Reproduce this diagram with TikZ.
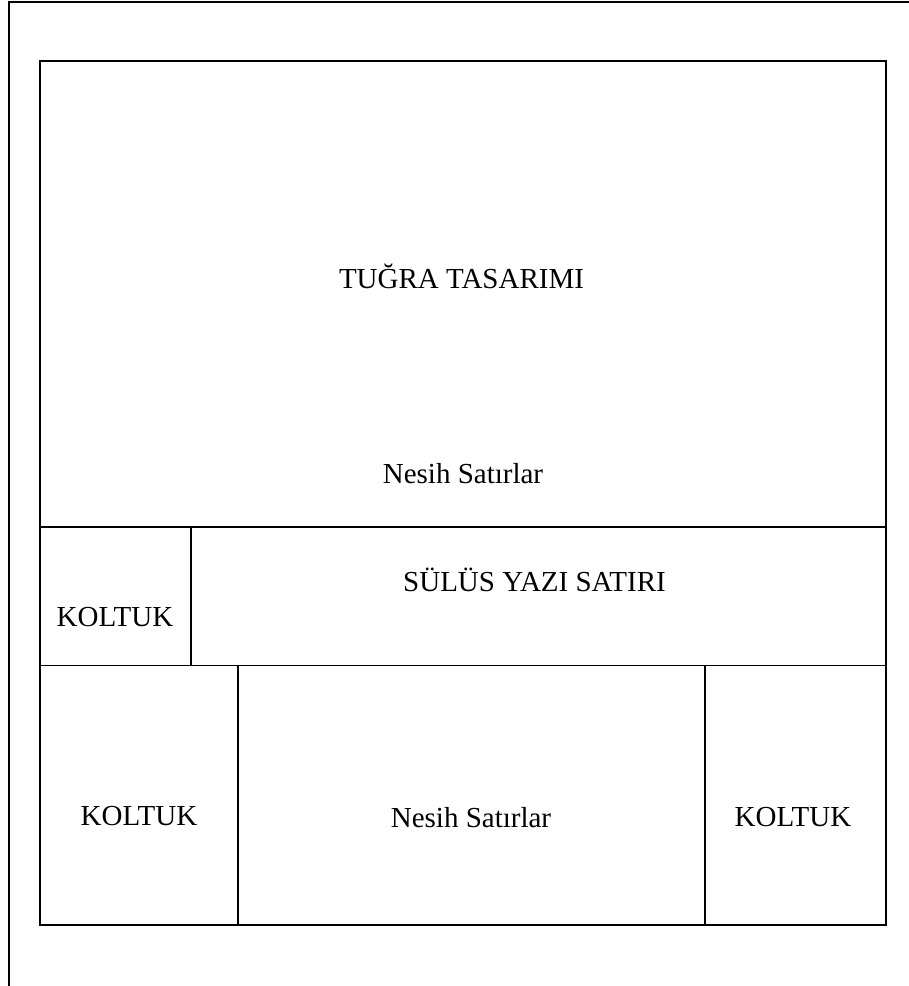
\documentclass[tikz,border=0pt]{standalone}
\usepackage{fontspec}
\setmainfont{Liberation Serif}
\usepackage{tikz}
\usetikzlibrary{calc}

\begin{document}
\begin{tikzpicture}[x=1pt,y=-1pt,
		yazi/.style={anchor=base,inner sep=0pt,font=\fontsize{29}{34}\selectfont}]
			\useasboundingbox (0,0) rectangle (909,986);

			\coordinate (sayfa) at (9,2);
			\coordinate (sayfaSag) at ($(sayfa)+(900,0)$);
			\coordinate (sayfaAlt) at ($(sayfa)+(0,984)$);

			\coordinate (A) at (40,61);
			\coordinate (B) at (886,925);
			%ara cizgiler
			\coordinate (h1L) at ($(A)+(0,466)$);
			\coordinate (h1R) at ($(h1L)+(846,0)$);
			\coordinate (h2L) at ($(A)+(0,604.5)$);
			\coordinate (h2R) at ($(h2L)+(846,0)$);
			\coordinate (v1T) at ($(h1L)+(151,0)$);
			\coordinate (v1B) at ($(h2L)+(151,0)$);
			\coordinate (v2T) at ($(h2L)+(198,0)$);
			\coordinate (v2B) at ($(v2T)+(0,259.5)$);
			\coordinate (v3T) at ($(h2L)+(665,0)$);
			\coordinate (v3B) at ($(v3T)+(0,259.5)$);

			\node[yazi] (tugra) at (461.5,288) {TUĞRA TASARIMI};
			\node[yazi] (nesih1) at (463,483) {Nesih Satırlar};
			\node[yazi] (sulus) at (534.5,591.5) {SÜLÜS YAZI SATIRI};
			\node[yazi] (koltuk1) at (115,626.5) {KOLTUK};
			\node[yazi] (koltuk2) at (139,825) {KOLTUK};
			\node[yazi] (nesih2) at (471,827.5) {Nesih Satırlar};
			\node[yazi] (koltuk3) at (793,826.5) {KOLTUK};

			\draw[line width=2, black] (sayfaSag) -- (sayfa) -- (sayfaAlt);
			\draw[line width=1.8, black] (A) rectangle (B);
			\draw[line width=1.8, black] (h1L) -- (h1R);
			\draw[line width=1.8, black] (h2L) -- (h2R);
			\draw[line width=1.8, black] (v1T) -- (v1B);
			\draw[line width=1.8, black] (v2T) -- (v2B);
			\draw[line width=1.8, black] (v3T) -- (v3B);

		\end{tikzpicture}
\end{document}
